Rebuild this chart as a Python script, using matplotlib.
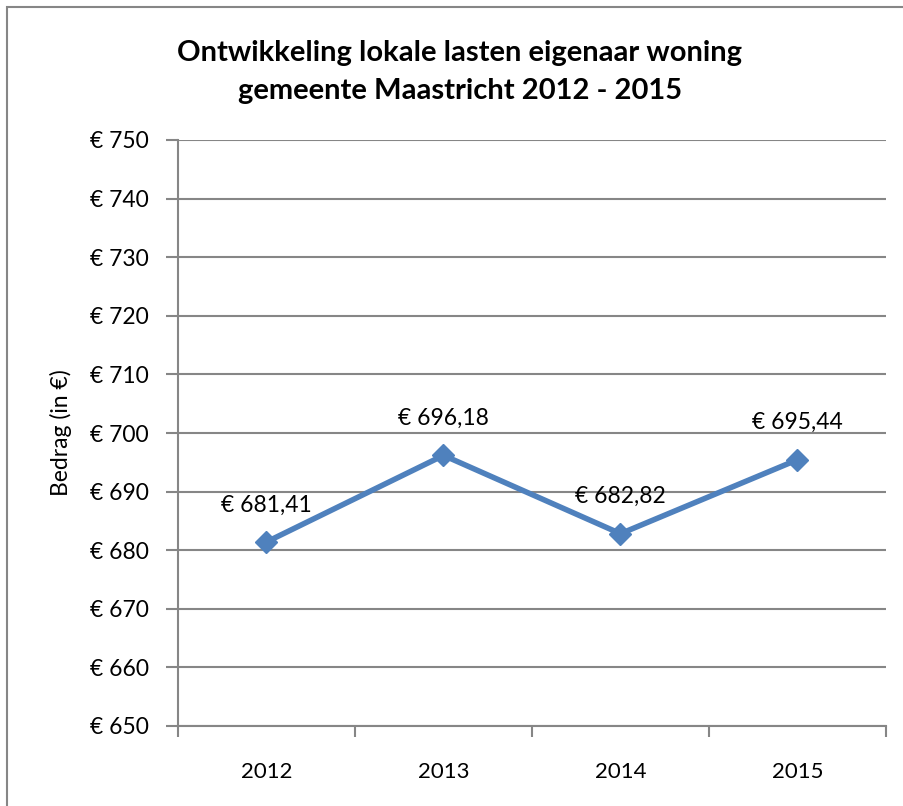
import matplotlib.pyplot as plt
from matplotlib.patches import Rectangle

plt.rcParams['font.family'] = ['Lato', 'DejaVu Sans']

jaren = ['2012', '2013', '2014', '2015']
bedragen = [681.41, 696.18, 682.82, 695.44]
y_ticks = list(range(650, 751, 10))

grijs = '#868686'
blauw = '#4F81BD'

fig = plt.figure(figsize=(9.04, 8.06), dpi=100)
ax = fig.add_axes([178 / 904, 80 / 806, (886 - 178) / 904, (726 - 140) / 806])

x = list(range(len(jaren)))
ax.plot(x, bedragen, color=blauw, linewidth=4, marker='D', markersize=11,
        markerfacecolor=blauw, markeredgecolor=blauw, zorder=3)

for xi, v in zip(x, bedragen):
    tekst = '€ ' + f'{v:.2f}'.replace('.', ',')
    ax.annotate(tekst, (xi, v), xytext=(0, 19), textcoords='offset points',
                ha='center', va='bottom', fontsize=16.5)

ax.set_xlim(-0.5, len(jaren) - 0.5)
ax.set_ylim(650, 750)
ax.set_yticks(y_ticks)
ax.set_yticklabels(['€ ' + str(t) for t in y_ticks], fontsize=16.5)
ax.grid(axis='y', color=grijs, linewidth=1.5)
ax.set_axisbelow(True)

ax.set_xticks(x)
ax.set_xticklabels(jaren, fontsize=16)
ax.set_xticks([i - 0.5 for i in range(len(jaren) + 1)], minor=True)
ax.tick_params(axis='x', which='major', length=0, pad=26)
ax.tick_params(axis='x', which='minor', length=8, width=1.5, color=grijs, direction='out')
ax.tick_params(axis='y', length=9, width=1.5, color=grijs, direction='out', pad=12)

for s in ['top', 'right']:
    ax.spines[s].set_visible(False)
for s in ['left', 'bottom']:
    ax.spines[s].set_color(grijs)
    ax.spines[s].set_linewidth(1.5)

ax.set_ylabel('Bedrag (in €)', fontsize=16.5, labelpad=13)

fig.text(460 / 904, 1 - 72 / 806,
         'Ontwikkeling lokale lasten eigenaar woning\ngemeente Maastricht 2012 - 2015',
         ha='center', va='center', fontsize=21, fontweight='bold', linespacing=1.55)

fig.patches.append(Rectangle((7 / 904, -0.1), 1.2, 1 - 7 / 806 + 0.1,
                             transform=fig.transFigure, fill=False,
                             edgecolor=grijs, linewidth=1.5))

fig.savefig('out.png', dpi=100)
